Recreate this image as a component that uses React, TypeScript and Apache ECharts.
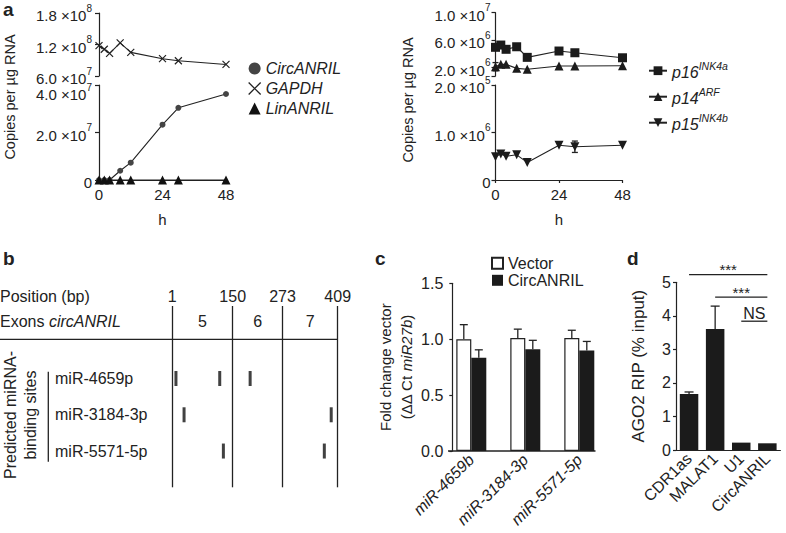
import React, { useEffect, useRef } from 'react';
import * as echarts from 'echarts';

const FONT = "'Liberation Sans', Arial, Helvetica, sans-serif";
const INK = '#222';
const BAR = '#1b1b1b';

// ---------- Panel a (left) ----------
const hours = [0, 2, 4, 8, 12, 24, 30, 48];
const gapdh = [1.18e8, 1.11e8, 1.03e8, 1.23e8, 1.05e8, 0.93e8, 0.89e8, 0.82e8];
const circAnril = [0, 0, 0, 0.39e7, 0.73e7, 2.33e7, 3.04e7, 3.62e7];
const linAnril = [0, 0, 0, 0, 0, 0, 0, 0];
const aLUpTicks = [6e7, 1.2e8, 1.8e8];
const aLUpLabels = ['6.0 ×10^7', '1.2 ×10^8', '1.8 ×10^8'];
const aLLoTicks = [0, 2e7, 4e7];
const aLLoLabels = ['0', '2.0 ×10^7', '4.0 ×10^7'];
const hourTicks = [0, 24, 48];

// ---------- Panel a (right) ----------
const p16 = [4.97e6, 5.3e6, 4.68e6, 5.05e6, 3.51e6, 4.43e6, 4.18e6, 3.45e6];
const p14 = [2.15e6, 2.49e6, 2.49e6, 1.91e6, 1.77e6, 2.25e6, 2.25e6, 2.29e6];
const p14Err = [0.6e6, 0, 0, 0, 0, 0, 0, 0];
const p15 = [0.49e6, 0.55e6, 0.5e6, 0.53e6, 0.37e6, 0.73e6, 0.7e6, 0.73e6];
const p15Err = [0, 0, 0, 0, 0, 0, 0.12e6, 0];
const aRightNames = ['p16', 'p14', 'p15'];
const aRightSups = ['INK4a', 'ARF', 'INK4b'];
const aRUpTicks = [2e6, 6e6, 1e7];
const aRUpLabels = ['2.0 ×10^6', '6.0 ×10^6', '1.0 ×10^7'];
const aRLoTicks = [0, 1e6, 2e6];
const aRLoLabels = ['0', '1.0 ×10^6', '2.0 ×10^5'];

// ---------- Panel b ----------
const exonBounds = [1, 150, 273, 409];
const exonNames = ['5', '6', '7'];
const mirnas = ['miR-4659p', 'miR-3184-3p', 'miR-5571-5p'];
const sites4659 = [10, 118, 193];
const sites3184 = [30, 393];
const sites5571 = [127, 376];

// ---------- Panel c ----------
const cCats = ['miR-4659b', 'miR-3184-3p', 'miR-5571-5p'];
const cVector = [1.0, 1.01, 1.01];
const cVectorErr = [0.13, 0.08, 0.07];
const cCirc = [0.835, 0.91, 0.9];
const cCircErr = [0.07, 0.08, 0.08];

// ---------- Panel d ----------
const dCats = ['CDR1as', 'MALAT1', 'U1', 'CircANRIL'];
const dVals = [1.67, 3.61, 0.22, 0.2];
const dErr = [0.06, 0.68, 0, 0];
const dSig = [
  { from: 'CDR1as', to: 'CircANRIL', y: 5.23, text: '***' },
  { from: 'MALAT1', to: 'CircANRIL', y: 4.56, text: '***' },
  { from: 'U1', to: 'CircANRIL', y: 3.84, text: 'NS' },
];

const X_PATH = 'path://M0,0L10,10M10,0L0,10';
const INV_TRI = 'path://M0,0L10,0L5,8.66Z';

const mkMain = (pad: number) => ({
  fontSize: 15, lineHeight: 20 + pad, verticalAlign: 'bottom', color: INK, fontFamily: FONT, padding: [pad, 0, 0, 0],
});
const mkSup = (pad: number) => ({
  fontSize: 10, lineHeight: 10, verticalAlign: 'top', color: INK, fontFamily: FONT, padding: [pad, 0, 0, 0],
});
const supRich = {
  m: mkMain(0), e: mkSup(0),
  m14: mkMain(14), e14: mkSup(14),
};
const toRich = (s: string, shift: number) => {
  const k = shift > 0 ? String(shift) : '';
  const [m, e] = s.split('^');
  return e ? `{m${k}|${m}}{e${k}|${e}}` : `{m${k}|${m}}`;
};

function sciAxis(ticks: number[], labels: string[], extra: number[], min: number, max: number, margin: number, shifts: number[]) {
  return {
    type: 'value',
    min,
    max,
    axisLine: { show: true, lineStyle: { color: INK, width: 1.2 } },
    axisTick: { show: true, length: 4, customValues: [...ticks, ...extra], lineStyle: { color: INK, width: 1.2 } },
    axisLabel: {
      customValues: ticks,
      margin,
      rich: supRich,
      formatter: (v: number) => {
        const i = ticks.findIndex((t) => Math.abs(t - v) <= Math.abs(t) * 1e-6 + 1e-9);
        return i >= 0 ? toRich(labels[i], shifts[i]) : '';
      },
    },
    splitLine: { show: false },
  };
}

function hourAxis(show: boolean) {
  return {
    type: 'value',
    min: 0,
    max: 48,
    show,
    axisLine: { show: true, onZero: false, lineStyle: { color: INK, width: 1.2 } },
    axisTick: { show: true, length: 3, customValues: hourTicks, lineStyle: { color: INK, width: 1.2 } },
    axisLabel: { customValues: hourTicks, fontSize: 15, color: INK, margin: 7 },
    splitLine: { show: false },
    name: 'h',
    nameLocation: 'middle',
    nameGap: 32,
    nameTextStyle: { fontSize: 15, color: INK },
  };
}

function errSeries(axis: number, items: number[][], offset: number, cap: number) {
  return {
    type: 'custom',
    xAxisIndex: axis,
    yAxisIndex: axis,
    silent: true,
    z: 1,
    data: items,
    renderItem: (_p: any, api: any) => {
      const x = api.value(0);
      const y = api.value(1);
      const up = api.value(2);
      const dn = api.value(3);
      const top = api.coord([x, y + up]);
      const bot = api.coord([x, y - dn]);
      const cx = top[0] + offset;
      const st = { stroke: INK, lineWidth: 1.3 };
      const children: any[] = [{ type: 'line', shape: { x1: cx, y1: top[1], x2: cx, y2: bot[1] }, style: st }];
      if (up > 0) children.push({ type: 'line', shape: { x1: cx - cap / 2, y1: top[1], x2: cx + cap / 2, y2: top[1] }, style: st });
      if (dn > 0) children.push({ type: 'line', shape: { x1: cx - cap / 2, y1: bot[1], x2: cx + cap / 2, y2: bot[1] }, style: st });
      return { type: 'group', children };
    },
  };
}

const lineBase = (name: string, axis: number, vals: number[], symbol: string, size: number, color: string) => ({
  name,
  type: 'line',
  xAxisIndex: axis,
  yAxisIndex: axis,
  data: hours.map((h, i) => [h, vals[i]]),
  symbol,
  symbolSize: size,
  showAllSymbol: true,
  lineStyle: { color: INK, width: 1.1 },
  itemStyle: { color, borderColor: color, borderWidth: 0 },
  z: 3,
});

function buildOption() {
  const bSites: number[][] = [
    ...sites4659.map((s) => [s, 0]),
    ...sites3184.map((s) => [s, 1]),
    ...sites5571.map((s) => [s, 2]),
  ];
  return {
    animation: false,
    textStyle: { fontFamily: FONT, color: INK },
    grid: [
      { left: 99, top: 13, width: 127, height: 63 },
      { left: 99, top: 85, width: 127, height: 95 },
      { left: 495.5, top: 12.7, width: 127, height: 63.3 },
      { left: 495.5, top: 85, width: 127, height: 95 },
      { left: 172.3, top: 306, width: 165.4, height: 181.3 },
      { left: 444.3, top: 283.3, width: 162, height: 167.7 },
      { left: 676, top: 282.3, width: 104.4, height: 167.7 },
    ],
    xAxis: [
      hourAxis(false),
      hourAxis(true),
      hourAxis(false),
      hourAxis(true),
      {
        type: 'value',
        min: 1,
        max: 409,
        position: 'top',
        axisLine: { show: false },
        axisTick: { show: false },
        splitLine: { show: false },
        axisLabel: { customValues: exonBounds, fontSize: 16, color: INK, margin: 2 },
      },
      {
        type: 'category',
        data: cCats,
        axisLine: { show: false },
        axisTick: { show: false },
        axisLabel: { interval: 0, rotate: 45, fontSize: 16, fontStyle: 'italic', color: INK, margin: 6 },
      },
      {
        type: 'category',
        data: dCats,
        axisLine: { show: true, lineStyle: { color: INK, width: 1.2 } },
        axisTick: { show: false },
        axisLabel: { interval: 0, rotate: 45, fontSize: 16, color: INK, margin: 6 },
      },
    ].map((a: any, i) => ({ gridIndex: i, ...a })),
    yAxis: [
      sciAxis(aLUpTicks, aLUpLabels, [], 6e7, 1.8e8, 7, [0, 0, 0]),
      sciAxis(aLLoTicks, aLLoLabels, [], 0, 4e7, 7, [0, 0, 14]),
      sciAxis(aRUpTicks, aRUpLabels, [8e5], 8e5, 1e7, 5, [0, 0, 0]),
      sciAxis(aRLoTicks, aRLoLabels, [], 0, 2e6, 5, [0, 0, 0]),
      {
        type: 'value',
        min: -2,
        max: 3,
        inverse: true,
        axisLine: { show: false },
        axisTick: { show: false },
        splitLine: { show: false },
        axisLabel: {
          customValues: [0, 1, 2],
          formatter: (v: number) => mirnas[Math.round(v)] ?? '',
          align: 'left',
          margin: 117.3,
          fontSize: 16,
          color: INK,
        },
      },
      {
        type: 'value',
        min: 0,
        max: 1.5,
        interval: 0.5,
        offset: -8,
        axisLine: { show: true, lineStyle: { color: INK, width: 1.2 } },
        axisTick: { show: true, length: 3, lineStyle: { color: INK, width: 1.2 } },
        splitLine: { show: false },
        axisLabel: { fontSize: 16, color: INK, margin: 9, formatter: (v: number) => v.toFixed(1) },
        name: 'Fold change vector\n(ΔΔ Ct {it|miR27b})',
        nameLocation: 'middle',
        nameRotate: 90,
        nameGap: 32,
        nameTextStyle: {
          fontSize: 15,
          lineHeight: 21,
          color: INK,
          rich: { it: { fontSize: 15, lineHeight: 21, fontStyle: 'italic', color: INK } },
        },
      },
      {
        type: 'value',
        min: 0,
        max: 5,
        interval: 1,
        axisLine: { show: true, lineStyle: { color: INK, width: 1.2 } },
        axisTick: { show: true, length: 3, lineStyle: { color: INK, width: 1.2 } },
        splitLine: { show: false },
        axisLabel: { fontSize: 16, color: INK, margin: 5 },
        name: 'AGO2 RIP (% input)',
        nameLocation: 'middle',
        nameRotate: 90,
        nameGap: 29,
        nameTextStyle: { fontSize: 17, color: INK },
      },
    ].map((a: any, i) => ({ gridIndex: i, ...a })),
    legend: [
      {
        orient: 'vertical',
        left: 248,
        top: 60.5,
        padding: 0,
        itemGap: 4,
        itemWidth: 12,
        itemHeight: 12,
        selectedMode: false,
        data: [
          { name: 'a:CircANRIL', icon: 'circle', itemStyle: { color: '#444' } },
          { name: 'a:GAPDH', icon: X_PATH, itemStyle: { color: INK, borderColor: INK, borderWidth: 1.3 } },
          { name: 'a:LinANRIL', icon: 'triangle', itemStyle: { color: '#111' } },
        ],
        formatter: (n: string) => `{i|${n.slice(2)}}`,
        textStyle: { rich: { i: { fontSize: 16, lineHeight: 18, fontStyle: 'italic', color: INK, fontFamily: FONT } } },
      },
      {
        orient: 'vertical',
        left: 648,
        top: 60.7,
        padding: 0,
        itemGap: 6,
        itemWidth: 18,
        itemHeight: 11,
        selectedMode: false,
        data: aRightNames.map((n) => 'r:' + n),
        formatter: (n: string) => {
          const k = aRightNames.indexOf(n.slice(2));
          return `{i|${aRightNames[k]}}{s|${aRightSups[k]}}`;
        },
        textStyle: {
          rich: {
            i: { fontSize: 16, lineHeight: 20, verticalAlign: 'bottom', fontStyle: 'italic', color: INK, fontFamily: FONT },
            s: { fontSize: 10.5, lineHeight: 10, verticalAlign: 'top', fontStyle: 'italic', color: INK, fontFamily: FONT },
          },
        },
      },
      {
        orient: 'vertical',
        left: 491,
        top: 255.3,
        padding: 0,
        itemGap: 1,
        itemWidth: 11,
        itemHeight: 11,
        selectedMode: false,
        data: [
          { name: 'c:Vector', icon: 'rect' },
          { name: 'c:CircANRIL', icon: 'rect' },
        ],
        formatter: (n: string) => n.slice(2),
        textStyle: { fontSize: 16, lineHeight: 16, color: INK },
      },
    ],
    series: [
      {
        ...lineBase('a:GAPDH', 0, gapdh, X_PATH, 7, INK),
        itemStyle: { color: INK, borderColor: INK, borderWidth: 1.2 },
      },
      lineBase('a:CircANRIL', 1, circAnril, 'circle', 6, '#444'),
      lineBase('a:LinANRIL', 1, linAnril, 'triangle', 9, '#111'),
      lineBase('r:p16', 2, p16, 'rect', 9, BAR),
      lineBase('r:p14', 2, p14, 'triangle', 9, BAR),
      lineBase('r:p15', 3, p15, INV_TRI, 9, BAR),
      errSeries(2, hours.map((h, i) => [h, p14[i], p14Err[i], p14Err[i]]).filter((d) => d[2] > 0), 0, 6),
      errSeries(3, hours.map((h, i) => [h, p15[i], p15Err[i], p15Err[i]]).filter((d) => d[2] > 0), 0, 6),
      {
        type: 'scatter',
        xAxisIndex: 4,
        yAxisIndex: 4,
        data: bSites,
        symbol: 'rect',
        symbolSize: [3, 15],
        itemStyle: { color: '#111' },
        silent: true,
        markLine: {
          silent: true,
          symbol: ['none', 'none'],
          label: { show: false },
          lineStyle: { color: INK, width: 1.3, type: 'solid' },
          data: exonBounds.map((b) => ({ xAxis: b })),
        },
      },
      {
        name: 'c:Vector',
        type: 'bar',
        xAxisIndex: 5,
        yAxisIndex: 5,
        data: cVector,
        barWidth: 15,
        barGap: '0%',
        z: 2,
        itemStyle: { color: '#fff', borderColor: INK, borderWidth: 1.2 },
      },
      {
        name: 'c:CircANRIL',
        type: 'bar',
        xAxisIndex: 5,
        yAxisIndex: 5,
        data: cCirc,
        barWidth: 15,
        barGap: '0%',
        z: 2,
        itemStyle: { color: BAR },
      },
      errSeries(5, cVector.map((v, i) => [i, v, cVectorErr[i], 0]), -7.5, 8),
      errSeries(5, cCirc.map((v, i) => [i, v, cCircErr[i], 0]), 7.5, 8),
      {
        type: 'bar',
        xAxisIndex: 6,
        yAxisIndex: 6,
        data: dVals,
        barWidth: 18.5,
        z: 2,
        itemStyle: { color: BAR },
      },
      errSeries(6, dVals.map((v, i) => [i, v, dErr[i], 0]).filter((d) => d[2] > 0), 0, 9),
    ],
  };
}

function buildGraphics(chart: any) {
  const px = (g: number, x: any, y: number) => chart.convertToPixel({ xAxisIndex: g, yAxisIndex: g }, [x, y]);
  const txt = (x: number, y: number, text: string, extra: any = {}) => ({
    type: 'text',
    x,
    y,
    silent: true,
    style: { text, fontFamily: FONT, fontSize: 16, fill: INK, align: 'left', verticalAlign: 'middle', ...extra },
  });
  const ln = (x1: number, y1: number, x2: number, y2: number) => ({
    type: 'line',
    silent: true,
    shape: { x1, y1, x2, y2 },
    style: { stroke: INK, lineWidth: 1.3 },
  });
  const g: any[] = [
    txt(3, 9.5, 'a', { fontSize: 19, fontWeight: 'bold' }),
    txt(3, 258.5, 'b', { fontSize: 19, fontWeight: 'bold' }),
    txt(375, 258.5, 'c', { fontSize: 19, fontWeight: 'bold' }),
    txt(627, 258.5, 'd', { fontSize: 19, fontWeight: 'bold' }),
    { ...txt(9.5, 97, 'Copies per µg RNA', { fontSize: 14.5, align: 'center' }), rotation: Math.PI / 2 },
    { ...txt(408, 100, 'Copies per µg RNA', { fontSize: 14.5, align: 'center' }), rotation: Math.PI / 2 },
    txt(0, 296.7, 'Position (bp)'),
    txt(0, 321.7, 'Exons {i|circANRIL}', { rich: { i: { fontStyle: 'italic', fontSize: 16, fontFamily: FONT, fill: INK } } }),
    ln(0, 339.3, 338, 339.3),
    ln(48.3, 371.7, 48.3, 461.7),
    {
      ...txt(20, 415, 'Predicted miRNA-\nbinding sites', { align: 'center', lineHeight: 20 }),
      rotation: Math.PI / 2,
    },
    ln(448, 451, 595.5, 451),
  ];
  exonNames.forEach((n, i) => {
    const mid = (exonBounds[i] + exonBounds[i + 1]) / 2;
    const p = px(4, mid, -1.57);
    g.push(txt(p[0], p[1], n, { align: 'center' }));
  });
  dSig.forEach((s) => {
    const a = px(6, s.from, s.y);
    const b = px(6, s.to, s.y);
    g.push(ln(a[0], a[1], b[0], b[1]));
    const isStar = s.text === '***';
    g.push(txt((a[0] + b[0]) / 2, a[1] - (isStar ? 4.6 : 7.7), s.text, { align: 'center', fontSize: isStar ? 15 : 16 }));
  });
  return g;
}

export default function App() {
  const ref = useRef<HTMLDivElement>(null);
  useEffect(() => {
    document.body.style.margin = '0';
    const chart = echarts.init(ref.current!, null, { renderer: 'svg' });
    chart.setOption(buildOption() as any);
    chart.setOption({ graphic: buildGraphics(chart) } as any);
    return () => chart.dispose();
  }, []);
  return <div ref={ref} style={{ width: 786, height: 533 }} />;
}
